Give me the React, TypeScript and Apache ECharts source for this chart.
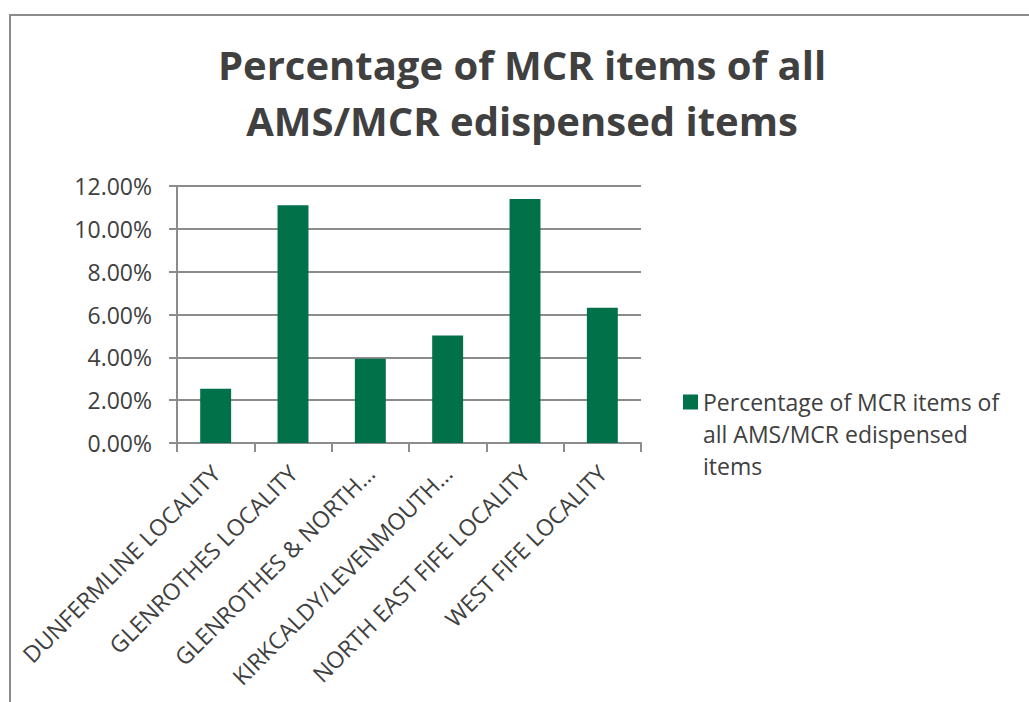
import React, { useEffect, useRef } from "react";
import * as echarts from "echarts";

const categories = [
  "DUNFERMLINE LOCALITY",
  "GLENROTHES LOCALITY",
  "GLENROTHES & NORTH…",
  "KIRKCALDY/LEVENMOUTH…",
  "NORTH EAST FIFE LOCALITY",
  "WEST FIFE LOCALITY",
];
const seriesName = "Percentage of MCR items of all AMS/MCR edispensed items";
const values = [0.0253, 0.111, 0.0393, 0.0502, 0.1139, 0.0632];
const titleLines = ["Percentage of MCR items of all", "AMS/MCR edispensed items"];
const legendLines = ["Percentage of MCR items of", "all AMS/MCR edispensed", "items"];

const FONT = "'Open Sans', 'Noto Sans', sans-serif";
const TEXT = "#404040";
const GRID = "#8c8c8c";
const GREEN = "#007148";

export default function App() {
  const ref = useRef<HTMLDivElement>(null);
  useEffect(() => {
    document.body.style.margin = "0";
    if (!ref.current) return;
    const chart = echarts.init(ref.current, undefined, { renderer: "svg" });
    chart.setOption({
      animation: false,
      backgroundColor: "#ffffff",
      title: {
        text: titleLines.join("\n"),
        left: 522,
        top: 36,
        textAlign: "center",
        padding: 0,
        textStyle: {
          fontFamily: FONT,
          fontWeight: "bold",
          fontSize: 40,
          lineHeight: 56,
          color: TEXT,
        },
      },
      legend: {
        left: 683,
        top: 322,
        padding: 0,
        itemWidth: 15,
        itemHeight: 15,
        icon: "rect",
        data: [seriesName],
        formatter: () => "\n\n" + legendLines.join("\n"),
        textStyle: {
          fontFamily: FONT,
          fontSize: 23,
          lineHeight: 32,
          color: TEXT,
        },
      },
      graphic: [
        {
          type: "polyline",
          shape: { points: [[10, 710], [10, 15], [1040, 15]] },
          style: { stroke: "#8c8c8c", lineWidth: 2, fill: null },
          silent: true,
        },
      ],
      grid: { left: 177, top: 186, width: 464, height: 257, containLabel: false },
      xAxis: {
        type: "category",
        data: categories,
        axisLine: { lineStyle: { color: GRID, width: 2 } },
        axisTick: { show: true, length: 9, alignWithLabel: false, lineStyle: { color: GRID, width: 2 } },
        axisLabel: {
          rotate: 45,
          interval: 0,
          margin: 26,
          fontFamily: FONT,
          fontSize: 23,
          color: TEXT,
        },
      },
      yAxis: {
        type: "value",
        min: 0,
        max: 0.12,
        interval: 0.02,
        axisLine: { show: true, lineStyle: { color: GRID, width: 2 } },
        axisTick: { show: true, length: 8, lineStyle: { color: GRID, width: 2 } },
        splitLine: { show: true, lineStyle: { color: GRID, width: 2 } },
        axisLabel: {
          margin: 25,
          fontFamily: FONT,
          fontSize: 23,
          color: TEXT,
          formatter: (v: number) => (v * 100).toFixed(2) + "%",
        },
      },
      series: [
        {
          name: seriesName,
          type: "bar",
          data: values,
          barCategoryGap: "60%",
          itemStyle: { color: GREEN },
        },
      ],
    });
    return () => chart.dispose();
  }, []);
  return <div ref={ref} style={{ width: 1029, height: 702 }} />;
}
